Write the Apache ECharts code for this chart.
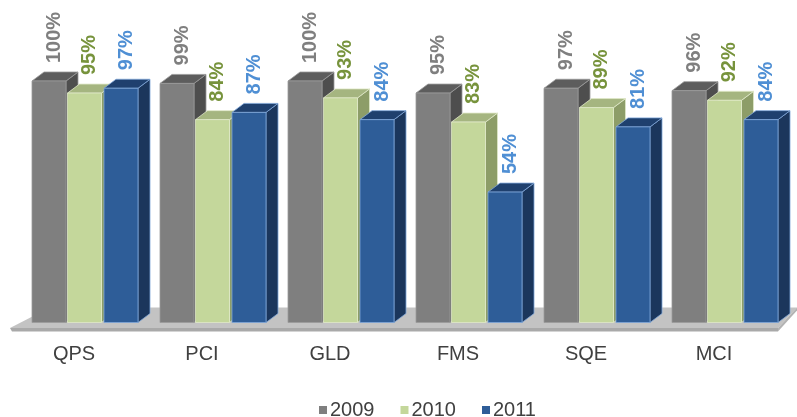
<!DOCTYPE html>
<html>
<head>
<meta charset="utf-8">
<script src="https://cdn.jsdelivr.net/npm/echarts@6/dist/echarts.min.js"></script>
<style>
  html, body { margin: 0; padding: 0; background: #ffffff; }
  #chart { width: 797px; height: 417px; }
</style>
</head>
<body>
<div id="chart"></div>
<script>
// Audit scores per unit, by year
const categories = ['QPS', 'PCI', 'GLD', 'FMS', 'SQE', 'MCI'];
const years = ['2009', '2010', '2011'];
const values2009 = [100, 99, 100, 95, 97, 96];
const values2010 = [95, 84, 93, 83, 89, 92];
const values2011 = [97, 87, 84, 54, 81, 84];

// Face colours of each 3D column: front, top, side, edge, value label
const palettes = [
  { front: '#7f7f7f', top: '#5d5d5d', side: '#4e4e4e', edge: '#9a9a9a', label: '#7f7f7f' },
  { front: '#c4d79b', top: '#a5b580', side: '#8d9d68', edge: '#dfe9c8', label: '#77933c' },
  { front: '#2e5d98', top: '#1f406e', side: '#1b365c', edge: '#7fa6d8', label: '#4f8fd4' }
];

const chart = echarts.init(document.getElementById('chart'), null, { renderer: 'canvas' });

// Column layout inside a category band (fractions of the band width)
const BAR_OFFSETS = [22 / 128, 57.5 / 128, 94 / 128];
const BAR_WIDTH = 34 / 128;
const DEPTH_X = 12, DEPTH_Y = -9;

function columnRenderer(seriesIdx) {
  const pal = palettes[seriesIdx];
  return function (params, api) {
    const idx = api.value(0);
    const val = api.value(1);
    const top = api.coord([idx, val]);
    const base = api.coord([idx, 0]);
    const band = api.size([1, 0])[0];
    const bandStart = top[0] - band / 2;
    const x = bandStart + band * BAR_OFFSETS[seriesIdx];
    const w = band * BAR_WIDTH;
    const yT = top[1];
    const yB = base[1];
    const edge = { stroke: pal.edge, lineWidth: 0.8 };
    return {
      type: 'group',
      children: [
        {
          type: 'polygon',
          shape: { points: [[x + w, yT], [x + w + DEPTH_X, yT + DEPTH_Y], [x + w + DEPTH_X, yB + DEPTH_Y], [x + w, yB]] },
          style: Object.assign({ fill: pal.side }, edge)
        },
        {
          type: 'polygon',
          shape: { points: [[x, yT], [x + w, yT], [x + w + DEPTH_X, yT + DEPTH_Y], [x + DEPTH_X, yT + DEPTH_Y]] },
          style: Object.assign({ fill: pal.top }, edge)
        },
        {
          type: 'rect',
          shape: { x: x, y: yT, width: w, height: yB - yT },
          style: Object.assign({ fill: pal.front }, edge)
        },
        {
          type: 'text',
          x: x + w / 2 + 5,
          y: yT - 18,
          rotation: Math.PI / 2,
          style: {
            text: val + '%',
            fill: pal.label,
            font: 'bold 20px "Liberation Sans", Arial, sans-serif',
            align: 'left',
            verticalAlign: 'middle'
          }
        }
      ]
    };
  };
}

// Grey floor slab under the columns
function floorRenderer(params, api) {
  const cs = params.coordSys;
  const yBase = api.coord([0, 0])[1];
  const left = cs.x, right = cs.x + cs.width;
  const frontTop = yBase + 5.5, frontBot = yBase + 9;
  const backY = yBase - 15;
  return {
    type: 'group',
    children: [
      {
        type: 'polygon',
        shape: { points: [[left, frontTop], [right, frontTop], [right + 19, backY], [left + 40, backY]] },
        style: { fill: '#c3c3c3' }
      },
      {
        type: 'polygon',
        shape: { points: [[left, frontTop], [right, frontTop], [right, frontBot], [left + 2, frontBot]] },
        style: { fill: '#a9a9a9' }
      },
      {
        type: 'polygon',
        shape: { points: [[right, frontTop], [right + 19, backY], [right + 19, backY + 3], [right, frontBot]] },
        style: { fill: '#b3b3b3' }
      }
    ]
  };
}

const seriesValues = [values2009, values2010, values2011];

const option = {
  backgroundColor: '#ffffff',
  animation: false,
  grid: { left: 10, right: 19, top: 81, bottom: 94.5 },
  xAxis: {
    type: 'category',
    data: categories,
    boundaryGap: true,
    axisLine: { show: false },
    axisTick: { show: false },
    axisLabel: {
      margin: 22,
      fontSize: 20,
      color: '#404040',
      fontFamily: '"Liberation Sans", Arial, sans-serif'
    }
  },
  yAxis: {
    type: 'value',
    min: 0,
    max: 100,
    show: false,
    splitLine: { show: false }
  },
  legend: {
    data: years,
    left: 314,
    top: 395,
    icon: 'rect',
    itemWidth: 8,
    itemHeight: 8,
    itemGap: 26,
    textStyle: {
      fontSize: 20,
      color: '#404040',
      padding: [0, 0, 0, -2],
      fontFamily: '"Liberation Sans", Arial, sans-serif'
    }
  },
  series: [
    {
      name: 'floor',
      type: 'custom',
      renderItem: floorRenderer,
      data: [[0, 0]],
      encode: { x: 0, y: 1 },
      silent: true,
      z: 1
    }
  ].concat(years.map(function (yr, k) {
    return {
      name: yr,
      type: 'custom',
      renderItem: columnRenderer(k),
      data: seriesValues[k].map(function (v, i) { return [i, v]; }),
      encode: { x: 0, y: 1 },
      itemStyle: { color: palettes[k].front },
      z: 2 + k
    };
  }))
};

chart.setOption(option);
</script>
</body>
</html>
